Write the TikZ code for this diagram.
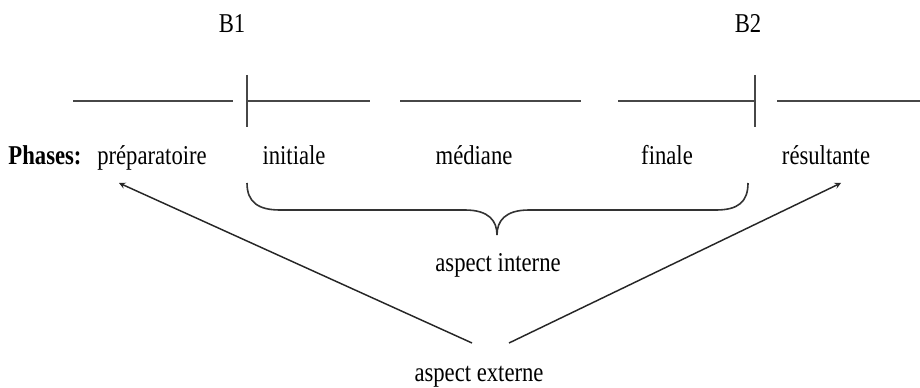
\documentclass[tikz,border=0pt]{standalone}
\usepackage{fontspec}
\setmainfont{Liberation Serif}
\newcommand{\tallt}[1]{\scalebox{1}[1.2]{#1}}

\begin{document}
\begin{tikzpicture}[x=0.75pt,y=-0.75pt,>=stealth,
    seg/.style={line width=1.7pt,draw=black!72},
    brc/.style={line width=1.2pt,draw=black!80},
    arr/.style={->,line width=1.1pt,draw=black!85},
    lbl/.style={anchor=base,inner sep=0pt,font=\fontsize{17}{20}\selectfont}]
            \useasboundingbox (0,0) rectangle (920,388);

            \node[lbl] (b1) at (232,33) {\tallt{B1}};
            \node[lbl] (b2) at (748,33) {\tallt{B2}};

            \foreach \a/\b in {73/233,247/370,400/581,618/755,777/920}
                \draw[seg] (\a,101) -- (\b,101);
            \foreach \x in {247,755}
                \draw[seg] (\x,75) -- (\x,127);

            \node[lbl] (phases) at (45,165)  {\tallt{\textbf{Phases:}}};
            \node[lbl] (prep)   at (152,165) {\tallt{préparatoire}};
            \node[lbl] (init)   at (294,165) {\tallt{initiale}};
            \node[lbl] (med)    at (474,165) {\tallt{médiane}};
            \node[lbl] (fin)    at (667,165) {\tallt{finale}};
            \node[lbl] (res)    at (826,165) {\tallt{résultante}};

            \draw[brc] (247,183) .. controls (247,202) and (258,210) .. (280,210)
                -- (465,210) .. controls (489,210) and (497,221) .. (497,235)
                .. controls (497,221) and (505,210) .. (529,210)
                -- (716,210) .. controls (738,210) and (748,202) .. (748,183);

            \node[lbl] (int) at (498,272) {\tallt{aspect interne}};
            \node[lbl] (ext) at (479,381) {\tallt{aspect externe}};

            \coordinate (prepTip) at (119,183);
            \coordinate (resTip)  at (841,183);
            \coordinate (extL)    at (472,343);
            \coordinate (extR)    at (509,343);
            \draw[arr] (extL) -- (prepTip);
            \draw[arr] (extR) -- (resTip);
        \end{tikzpicture}
\end{document}
